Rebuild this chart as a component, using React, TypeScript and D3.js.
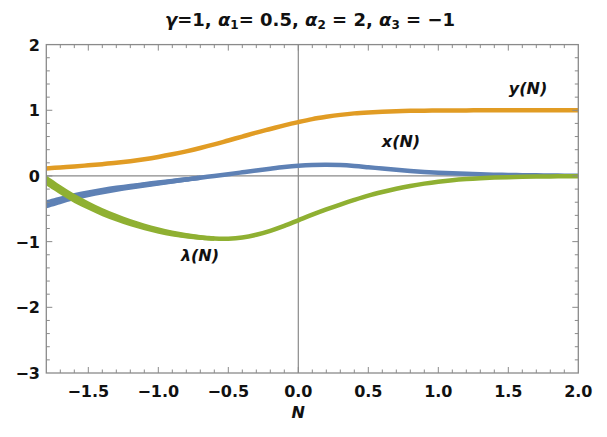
import React from "react";
import * as d3 from "d3";

const nGrid = [-1.8,-1.7,-1.6,-1.5,-1.4,-1.3,-1.2,-1.1,-1.0,-0.9,-0.8,-0.7,-0.6,-0.5,-0.4,-0.3,-0.2,-0.1,0,0.1,0.2,0.3,0.4,0.5,0.6,0.7,0.8,0.9,1.0,1.1,1.2,1.3,1.4,1.5,1.6,1.7,1.8,1.9,2.0];

const xSeries = [-0.43,-0.37,-0.315,-0.27,-0.23,-0.195,-0.165,-0.135,-0.108,-0.08,-0.053,-0.026,0.0,0.027,0.055,0.083,0.11,0.135,0.155,0.168,0.172,0.166,0.152,0.133,0.113,0.094,0.077,0.062,0.05,0.04,0.032,0.025,0.02,0.016,0.012,0.009,0.007,0.005,0.004];

const ySeries = [0.115,0.13,0.145,0.162,0.18,0.2,0.225,0.255,0.29,0.33,0.375,0.425,0.48,0.54,0.6,0.66,0.715,0.77,0.82,0.865,0.9,0.93,0.953,0.968,0.979,0.986,0.991,0.994,0.996,0.997,0.998,0.999,0.999,1.0,1.0,1.0,1.0,1.0,1.0];

const lambdaSeries = [-0.07,-0.21,-0.34,-0.45,-0.55,-0.635,-0.71,-0.775,-0.83,-0.875,-0.91,-0.937,-0.953,-0.955,-0.937,-0.895,-0.835,-0.76,-0.675,-0.59,-0.51,-0.435,-0.365,-0.3,-0.245,-0.195,-0.152,-0.117,-0.088,-0.065,-0.048,-0.035,-0.025,-0.018,-0.013,-0.01,-0.007,-0.005,-0.004];

const xMajorTicks = [-1.5,-1.0,-0.5,0.0,0.5,1.0,1.5,2.0];
const xTickLabels = ["\u22121.5","\u22121.0","\u22120.5","0.0","0.5","1.0","1.5","2.0"];
const yMajorTicks = [-3,-2,-1,0,1,2];
const yTickLabels = ["\u22123","\u22122","\u22121","0","1","2"];

const W = 607, H = 437;
const L = 46.3, R = 578.3, T = 44.6, B = 373;
const BLUE = "#5E81B5", ORANGE = "#E19C24", GREEN = "#8FB032";
const FRAME = "#8a8a8a";
const FONT = "'DejaVu Sans', Verdana, sans-serif";

export default function App() {
  const x = d3.scaleLinear().domain([-1.8, 2]).range([L, R]);
  const y = d3.scaleLinear().domain([-3, 2]).range([B, T]);

  const mk = (vals: number[]) => nGrid.map((n, i) => [n, vals[i]] as [number, number]);
  const curve = d3.curveCatmullRom.alpha(0.5);
  const line = d3.line<[number, number]>().x(d => x(d[0])).y(d => y(d[1])).curve(curve);

  const thick = (vals: number[], extra: number, thr: number) => {
    const pts = mk(vals).filter(d => d[0] <= thr + 1e-9);
    const hw = (n: number) => 2.25 + extra * Math.max(0, (thr - n) / (thr + 1.8));
    return d3.area<[number, number]>()
      .x(d => x(d[0]))
      .y0(d => y(d[1]) - hw(d[0]))
      .y1(d => y(d[1]) + hw(d[0]))
      .curve(curve)(pts) || "";
  };

  const xMinor = d3.range(-18, 21).map(i => i / 10);
  const yMinor = d3.range(-15, 11).map(i => i / 5);
  const isMajX = (v: number) => Math.abs(v * 2 - Math.round(v * 2)) < 1e-6;
  const isMajY = (v: number) => Math.abs(v - Math.round(v)) < 1e-6;

  return (
    <svg width={W} height={H} style={{ position: "absolute", left: 0, top: 0, background: "#fff" }} fontFamily={FONT}>
      <line x1={x(0)} x2={x(0)} y1={T} y2={B} stroke={FRAME} strokeWidth={1.2} />
      <line x1={L} x2={R} y1={y(0)} y2={y(0)} stroke={FRAME} strokeWidth={1.2} />

      <clipPath id="clip"><rect x={L} y={T} width={R - L} height={B - T} /></clipPath>
      <g clipPath="url(#clip)">
        <path d={line(mk(xSeries)) || ""} fill="none" stroke={BLUE} strokeWidth={4.5} />
        <path d={thick(xSeries, 1.8, -0.7)} fill={BLUE} />
        <path d={line(mk(ySeries)) || ""} fill="none" stroke={ORANGE} strokeWidth={4.5} />
        <path d={line(mk(lambdaSeries)) || ""} fill="none" stroke={GREEN} strokeWidth={4.5} />
        <path d={thick(lambdaSeries, 2.8, -0.6)} fill={GREEN} />
      </g>

      <rect x={L} y={T} width={R - L} height={B - T} fill="none" stroke={FRAME} strokeWidth={1.3} />

      {xMinor.filter(v => v > -1.8 + 1e-6 && v < 2 - 1e-6).map((v, i) => {
        const len = isMajX(v) ? 6 : 3.5;
        return (
          <g key={"xt" + i} stroke={FRAME} strokeWidth={1}>
            <line x1={x(v)} x2={x(v)} y1={B} y2={B - len} />
            <line x1={x(v)} x2={x(v)} y1={T} y2={T + len} />
          </g>
        );
      })}
      {yMinor.filter(v => v > -3 + 1e-6 && v < 2 - 1e-6).map((v, i) => {
        const len = isMajY(v) ? 6 : 3.5;
        return (
          <g key={"yt" + i} stroke={FRAME} strokeWidth={1}>
            <line x1={L} x2={L + len} y1={y(v)} y2={y(v)} />
            <line x1={R} x2={R - len} y1={y(v)} y2={y(v)} />
          </g>
        );
      })}

      {xMajorTicks.map((v, i) => (
        <text key={"xl" + i} x={x(v)} y={397} textAnchor="middle" fontSize={16} fontWeight="bold" fill="#111">{xTickLabels[i]}</text>
      ))}
      {yMajorTicks.map((v, i) => (
        <text key={"yl" + i} x={40} y={y(v) + 6} textAnchor="end" fontSize={16} fontWeight="bold" fill="#111">{yTickLabels[i]}</text>
      ))}

      <text x={x(0)} y={418} textAnchor="middle" fontSize={16} fontWeight="bold" fontStyle="italic" fill="#111">N</text>

      <text x={528} y={94} textAnchor="middle" fontSize={16} fontWeight="bold" fontStyle="italic" fill="#111">y(N)</text>
      <text x={401} y={147} textAnchor="middle" fontSize={16} fontWeight="bold" fontStyle="italic" fill="#111">x(N)</text>
      <text x={200} y={261} textAnchor="middle" fontSize={16} fontWeight="bold" fontStyle="italic" fill="#111">λ(N)</text>

      <text x={310} y={26} textAnchor="middle" fontSize={18} fontWeight="bold" fill="#111">
        <tspan fontStyle="italic">γ</tspan>
        <tspan>=1, </tspan>
        <tspan fontStyle="italic">α</tspan>
        <tspan fontSize={12} dy={3}>1</tspan>
        <tspan dy={-3}>= 0.5, </tspan>
        <tspan fontStyle="italic">α</tspan>
        <tspan fontSize={12} dy={3}>2</tspan>
        <tspan dy={-3}> = 2, </tspan>
        <tspan fontStyle="italic">α</tspan>
        <tspan fontSize={12} dy={3}>3</tspan>
        <tspan dy={-3}> = {"\u2212"}1</tspan>
      </text>
    </svg>
  );
}
